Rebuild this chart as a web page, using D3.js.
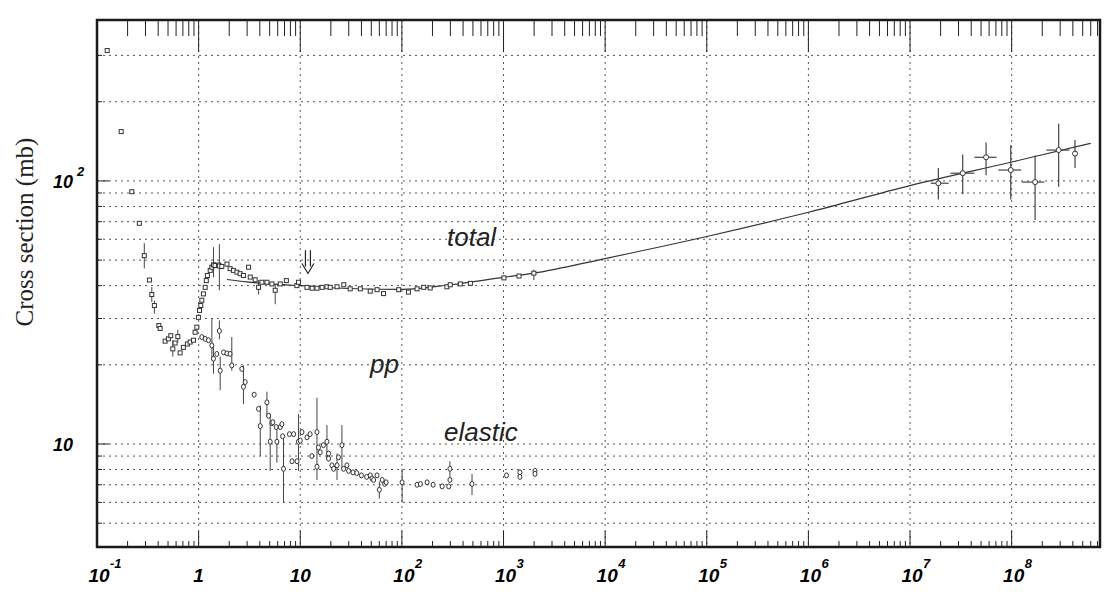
<!DOCTYPE html>
<html>
<head>
<meta charset="utf-8">
<script src="https://cdn.jsdelivr.net/npm/d3@7"></script>
<style>
  body { margin: 0; background: #fff; }
  text { font-family: "Liberation Sans", Arial, sans-serif; }
</style>
</head>
<body>
<script>
// total pp cross section: [p, sigma, errLo, errHi]
let totalData = [
  [0.126, 313], [0.173, 154], [0.22, 91], [0.261, 69], [0.292, 52, 46.5, 58], [0.328, 42],
  [0.346, 37, 34.6, 39.5], [0.367, 33.6, 31.3, 35.1], [0.406, 28.2], [0.418, 27.5], [0.468, 24.6],
  [0.504, 25.1], [0.532, 25.8], [0.557, 23, 21.5, 24.8], [0.587, 24.2], [0.624, 25.6, 24.3, 27.2],
  [0.657, 22.2], [0.708, 23.3], [0.776, 24], [0.825, 24.4], [0.89, 24.8], [0.924, 26.6], [0.96, 27.8],
  [0.995, 30.3], [1.02, 32.2], [1.05, 33.6], [1.075, 35.2], [1.115, 37.2], [1.16, 39.4], [1.19, 41.8],
  [1.22, 43.7], [1.30, 45.7], [1.35, 47], [1.40, 48, 43, 56], [1.45, 47.7], [1.57, 47.9],
  [1.60, 47.5, 38.4, 57.5], [1.69, 47.3], [1.90, 48.3], [2.04, 46.4], [2.2, 45.7], [2.38, 45],
  [2.56, 44.4], [2.76, 43.7], [3.1, 47], [3.22, 43.1], [3.6, 42.1], [3.89, 39.4, 37, 42], [4.19, 41.2],
  [4.7, 41.2], [5.26, 40.6], [5.67, 38.4, 34, 40.6], [6.35, 40.6], [7.3, 41.8], [9.26, 40], [9.61, 41.2],
  [11.65, 39.4], [13.1, 39.1], [14.6, 39.1], [16.4, 39.4], [18.3, 39.6], [19.7, 39.4], [23, 39.6],
  [26.8, 40.3], [31, 38.9], [39, 38.9], [48.8, 38.1], [57, 38.6], [66, 37.3], [93, 38.6], [116, 37.8],
  [141, 38.9], [164, 39.4], [190, 39.2], [277, 39.6], [299, 40.3], [376, 40.6], [472, 40.8],
  [1010, 42.8], [1420, 43.5], [1990, 44.6, 42, 46]
]

// elastic pp cross section: [p, sigma, errLo, errHi]
let elasticData = [
  [1.075, 25.5], [1.16, 25.1], [1.25, 24.8], [1.35, 23.7, 20.8, 29.9], [1.40, 21.1, 18.5, 24], [1.51, 22],
  [1.60, 26.9, 25, 29.5], [1.63, 19, 16, 21.5], [1.76, 22.3], [1.90, 22.1], [2.04, 22], [2.12, 19.9, 19, 25.5],
  [2.66, 19.3], [2.76, 16.5, 14.2, 19.9], [2.87, 17.2], [3.52, 15.4], [3.89, 13.6], [4.04, 11.7, 9, 14],
  [4.7, 14.4, 12.7, 15.8], [4.88, 12.8], [5.06, 10.2, 7.9, 13], [5.26, 12], [5.37, 12.1], [5.8, 11.6],
  [5.89, 10.2, 8.5, 11.8], [6.35, 11.6], [6.6, 11.9], [6.7, 10.7], [6.84, 8.05, 6, 10.8], [7.83, 10.9],
  [8.3, 8.6], [8.6, 10.9], [9.3, 8.6], [9.6, 10.2, 7.9, 13], [10, 10.3], [10.4, 11.1], [11.65, 10.6],
  [12.5, 10.9], [13, 9], [14.6, 11.1, 7.3, 15], [14.6, 8.2], [15.1, 9.7], [15.7, 9.3], [16.9, 9.9],
  [18.3, 10.2, 8.7, 11.8], [19, 9.2], [19, 8.8], [20.5, 8.3], [21.3, 8.05], [23, 8.3, 7.3, 9.2], [23.8, 8.9],
  [25.7, 9.9, 8, 11.8], [26.7, 8.05], [28.8, 8.3], [29.9, 7.9], [33, 7.8], [36, 7.75], [40, 7.6], [45, 7.5],
  [48.9, 7.6], [50.8, 7.4], [52.7, 7.3], [57, 7.6], [60, 6.7, 6.2, 7.2], [64, 7.3], [67.8, 7.05], [70, 7.15],
  [100.5, 7.15, 6, 8.05], [141, 7], [152, 7.05], [177, 7.15], [203, 7], [249, 6.9], [289, 6.9], [297, 7.3],
  [297, 8.05, 7.4, 8.6], [490, 7.05, 6.4, 7.7], [1070, 7.6], [1450, 7.8], [1450, 7.5], [2040, 7.9], [2040, 7.7]
]

// cosmic ray points: [p, sigma, sigLo, sigHi, pLo, pHi]
let cosmicData = [
  [1.9e7, 98, 85, 112, 1.6e7, 2.4e7],
  [3.3e7, 107, 89, 126, 2.5e7, 4.3e7],
  [5.6e7, 123, 105, 140, 4.3e7, 7.1e7],
  [9.8e7, 110, 85, 137, 7.4e7, 1.24e8],
  [1.7e8, 99, 71, 125, 1.26e8, 2.1e8],
  [2.9e8, 131, 95, 165, 2.2e8, 3.7e8],
  [4.2e8, 127, 112, 143]
]

// fit curve
let fitX = [1.9, 3, 5, 10, 30, 100, 300, 1000, 2000, 1e4, 1e5, 1e6, 1e7, 1e8, 6e8]
let fitY = [42.2, 41.3, 40.6, 40.0, 39.0, 38.7, 40.3, 43.0, 44.6, 50.7, 61.5, 76, 96, 118, 139]

let xTicks = [0.1, 1, 10, 1e2, 1e3, 1e4, 1e5, 1e6, 1e7, 1e8]
let xTickLabels = [['10', '-1'], ['1', ''], ['10', ''], ['10', '2'], ['10', '3'], ['10', '4'],
  ['10', '5'], ['10', '6'], ['10', '7'], ['10', '8']]
let yTicks = [10, 100]
let yTickLabels = [['10', ''], ['10', '2']]
let yGrid = [5, 6, 7, 8, 9, 10, 20, 30, 40, 50, 60, 70, 80, 90, 100, 200, 300]

let arrowAt = [11.9, 54.5, 44.5]

let width = 1117
let height = 608
let mLeft = 97, mRight = 1100, mTop = 20, mBottom = 547

let svg = d3.select('body').append('svg')
  .attr('width', width)
  .attr('height', height)

let x = d3.scaleLog().domain([0.1, 7.4e8]).range([mLeft, mRight])
let y = d3.scaleLog().domain([4.06, 409]).range([mBottom, mTop])

// minor tick values per decade
let minor = []
for (let e = -1; e <= 8; e++) {
  for (let m = 2; m <= 9; m++) {
    let v = m * Math.pow(10, e)
    if (v < 7.4e8) minor.push(v)
  }
}

// grid
let grid = svg.append('g')
  .style('stroke', '#555')
  .style('stroke-width', 1)
  .style('stroke-dasharray', '2,4')

grid.selectAll('.hg').data(yGrid).enter().append('line')
  .attr('x1', mLeft).attr('x2', mRight)
  .attr('y1', d => y(d)).attr('y2', d => y(d))

grid.selectAll('.vg').data(xTicks.slice(1)).enter().append('line')
  .attr('x1', d => x(d)).attr('x2', d => x(d))
  .attr('y1', mTop).attr('y2', mBottom)

// fit curve
let line = d3.line()
  .x(d => x(d[0]))
  .y(d => y(d[1]))
  .curve(d3.curveMonotoneX)

svg.append('path')
  .attr('d', line(d3.zip(fitX, fitY)))
  .style('fill', 'none')
  .style('stroke', '#333')
  .style('stroke-width', 1.2)

// error bars
let allErr = totalData.concat(elasticData).filter(d => d.length > 2)
svg.selectAll('.err').data(allErr).enter().append('line')
  .attr('x1', d => x(d[0])).attr('x2', d => x(d[0]))
  .attr('y1', d => y(d[2])).attr('y2', d => y(d[3]))
  .style('stroke', '#444')
  .style('stroke-width', 1)

svg.selectAll('.cerr').data(cosmicData).enter().append('line')
  .attr('x1', d => x(d[0])).attr('x2', d => x(d[0]))
  .attr('y1', d => y(d[2])).attr('y2', d => y(d[3]))
  .style('stroke', '#444')
  .style('stroke-width', 1.2)

svg.selectAll('.cxerr').data(cosmicData.filter(d => d.length > 4)).enter().append('line')
  .attr('x1', d => x(d[4])).attr('x2', d => x(d[5]))
  .attr('y1', d => y(d[1])).attr('y2', d => y(d[1]))
  .style('stroke', '#444')
  .style('stroke-width', 1.2)

// markers
svg.selectAll('.tot').data(totalData).enter().append('rect')
  .attr('x', d => x(d[0]) - 2)
  .attr('y', d => y(d[1]) - 2)
  .attr('width', 4)
  .attr('height', 4)
  .style('fill', '#fff')
  .style('stroke', '#333')
  .style('stroke-width', 1)

svg.selectAll('.el').data(elasticData).enter().append('ellipse')
  .attr('cx', d => x(d[0]))
  .attr('cy', d => y(d[1]))
  .attr('rx', 2)
  .attr('ry', 2.5)
  .style('fill', '#fff')
  .style('stroke', '#333')
  .style('stroke-width', 1)

svg.selectAll('.cos').data(cosmicData).enter().append('circle')
  .attr('cx', d => x(d[0]))
  .attr('cy', d => y(d[1]))
  .attr('r', 2.5)
  .style('fill', '#fff')
  .style('stroke', '#333')
  .style('stroke-width', 1)

// arrow
let ax = x(arrowAt[0]), ay1 = y(arrowAt[1]), ay2 = y(arrowAt[2])
svg.append('path')
  .attr('d', 'M' + (ax - 2.5) + ',' + ay1 + 'V' + (ay2 - 7) +
    'M' + (ax + 2.5) + ',' + ay1 + 'V' + (ay2 - 7) +
    'M' + (ax - 6) + ',' + (ay2 - 10) + 'L' + ax + ',' + ay2 + 'L' + (ax + 6) + ',' + (ay2 - 10))
  .style('fill', 'none')
  .style('stroke', '#222')
  .style('stroke-width', 1.2)

// frame
svg.append('rect')
  .attr('x', mLeft).attr('y', mTop)
  .attr('width', mRight - mLeft).attr('height', mBottom - mTop)
  .style('fill', 'none')
  .style('stroke', '#1a1a1a')
  .style('stroke-width', 2.5)

// ticks
let ticks = svg.append('g').style('stroke', '#222').style('stroke-width', 1)

ticks.selectAll('.bm').data(minor).enter().append('line')
  .attr('x1', d => x(d)).attr('x2', d => x(d))
  .attr('y1', mBottom).attr('y2', mBottom - 6)

ticks.selectAll('.bM').data(xTicks.slice(1)).enter().append('line')
  .attr('x1', d => x(d)).attr('x2', d => x(d))
  .attr('y1', mBottom).attr('y2', mBottom - 16)

ticks.selectAll('.tm').data(minor).enter().append('line')
  .attr('x1', d => x(d)).attr('x2', d => x(d))
  .attr('y1', mTop).attr('y2', mTop + 16)

ticks.selectAll('.tM').data(xTicks.slice(1)).enter().append('line')
  .attr('x1', d => x(d)).attr('x2', d => x(d))
  .attr('y1', mTop).attr('y2', mTop + 32)

ticks.selectAll('.lm').data(yGrid).enter().append('line')
  .attr('x1', mLeft).attr('x2', d => mLeft + (yTicks.includes(d) ? 12 : 5))
  .attr('y1', d => y(d)).attr('y2', d => y(d))

// tick labels
let xl = svg.selectAll('.xl').data(xTicks).enter().append('g')
  .attr('transform', d => 'translate(' + x(d) + ',' + 582 + ')')

xl.append('text')
  .attr('x', (d, i) => xTickLabels[i][1] ? 2 : 0)
  .attr('text-anchor', 'middle')
  .style('font-size', '19px')
  .style('font-weight', 'bold')
  .style('font-style', 'italic')
  .text((d, i) => xTickLabels[i][0])

xl.append('text')
  .attr('x', 13)
  .attr('y', -14)
  .style('font-size', '13px')
  .style('font-weight', 'bold')
  .style('font-style', 'italic')
  .text((d, i) => xTickLabels[i][1])

let yl = svg.selectAll('.yl').data(yTicks).enter().append('g')
  .attr('transform', d => 'translate(' + 63 + ',' + (y(d) + 7) + ')')

yl.append('text')
  .attr('text-anchor', 'middle')
  .style('font-size', '18px')
  .style('font-weight', 'bold')
  .style('font-style', 'italic')
  .text((d, i) => yTickLabels[i][0])

yl.append('text')
  .attr('x', 14)
  .attr('y', -12)
  .style('font-size', '13px')
  .style('font-weight', 'bold')
  .style('font-style', 'italic')
  .text((d, i) => yTickLabels[i][1])

// axis title
svg.append('text')
  .attr('transform', 'translate(33,232) rotate(-90)')
  .attr('text-anchor', 'middle')
  .style('font-family', '"Liberation Serif", "Times New Roman", serif')
  .style('font-size', '25px')
  .style('fill', '#222')
  .text('Cross section (mb)')

// curve labels
let notes = [['total', 447, 246], ['pp', 370, 373], ['elastic', 444, 441]]
svg.selectAll('.note').data(notes).enter().append('text')
  .attr('x', d => d[1])
  .attr('y', d => d[2])
  .style('font-size', '26px')
  .style('font-style', 'italic')
  .style('fill', '#222')
  .text(d => d[0])
</script>
</body>
</html>
